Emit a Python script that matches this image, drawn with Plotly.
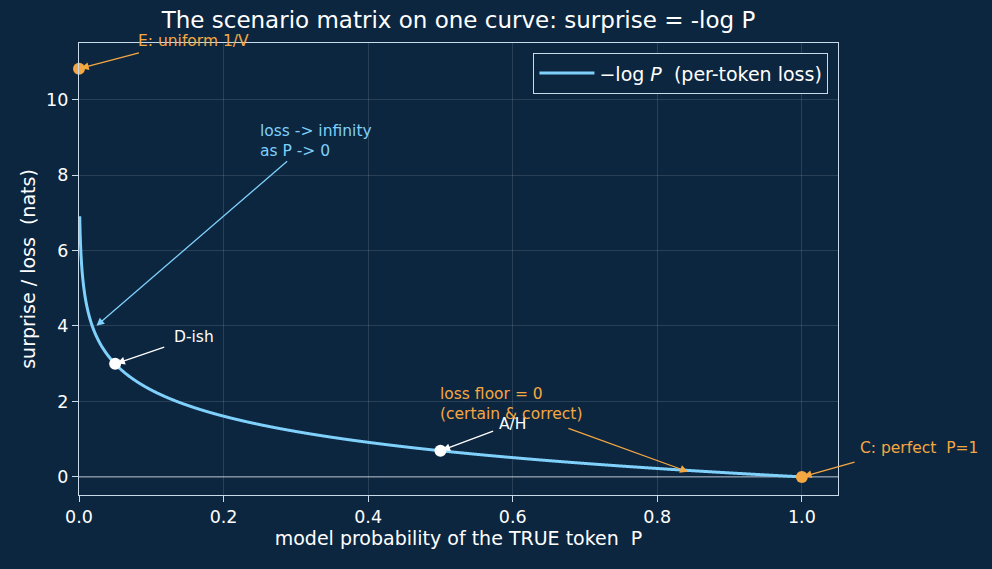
import numpy as np
import plotly.graph_objects as go

# ---- data ----
p_curve = np.linspace(0.001, 1.0, 3000)
loss_curve = -np.log(p_curve)

V = 50000
scenario_labels = ["E: uniform 1/V", "D-ish", "A/H", "C: perfect\u00a0\u00a0P=1"]
scenario_p = [1.0 / V, 0.05, 0.5, 1.0]
scenario_loss = [float(-np.log(p)) for p in scenario_p]
scenario_colors = ["#f5a742", "#ffffff", "#ffffff", "#f5a742"]

x_ticks = [0.0, 0.2, 0.4, 0.6, 0.8, 1.0]
y_ticks = [0, 2, 4, 6, 8, 10]

BG = "#0c263f"
CURVE = "#7fd0fb"
ORANGE = "#f5a742"
SPINE = "#c9dbea"
FONT = "DejaVu Sans"
X_MAX = 1.05
NB2 = "\u00a0\u00a0"

fig = go.Figure()
fig.add_trace(go.Scatter(
    x=p_curve, y=loss_curve, mode="lines",
    line=dict(color=CURVE, width=3, simplify=False),
    name="\u2212log <i>P</i>" + NB2 + "(per-token loss)",
))
fig.add_trace(go.Scatter(
    x=scenario_p, y=scenario_loss, mode="markers",
    marker=dict(color=scenario_colors, size=12, line=dict(width=0)),
    showlegend=False, cliponaxis=False,
))

# zero line
fig.add_shape(type="line", xref="paper", yref="y", x0=0, x1=1, y0=0, y1=0,
              line=dict(color="#8a9bab", width=1.2), layer="below")

ANN_SIZE = 15.5
anns = []
def arrow(x, y, ax, ay, color):
    anns.append(dict(x=x, y=y, ax=ax, ay=ay, xref="x", yref="y", axref="x", ayref="y",
                     text="", showarrow=True, arrowhead=2, arrowsize=1.2, arrowwidth=1.3,
                     arrowcolor=color, standoff=2))
def label(x, y, text, color, paper=False):
    anns.append(dict(x=(x / X_MAX) if paper else x, y=y,
                     xref="paper" if paper else "x", yref="y", text=text, showarrow=False,
                     xanchor="left", yanchor="bottom", align="left",
                     font=dict(family=FONT, size=ANN_SIZE, color=color)))

# E
arrow(scenario_p[0], scenario_loss[0], 0.085, 11.25, ORANGE)
label(0.079, 11.26, scenario_labels[0], ORANGE)
# loss -> infinity
arrow(0.022, 3.97, 0.29, 8.4, CURVE)
label(0.248, 8.35, "loss -> infinity<br>as P -> 0", CURVE)
# D-ish
arrow(scenario_p[1], scenario_loss[1], 0.12, 3.45, "#ffffff")
label(0.129, 3.42, scenario_labels[1], "#ffffff")
# A/H
arrow(scenario_p[2], scenario_loss[2], 0.575, 1.23, "#ffffff")
label(0.578, 1.1, scenario_labels[2], "#ffffff")
# loss floor
arrow(0.845, 0.12, 0.675, 1.3, ORANGE)
label(0.497, 1.38, "loss floor = 0<br>(certain & correct)", ORANGE)
# C
arrow(scenario_p[3], scenario_loss[3], 1.075, 0.4, ORANGE)
label(1.077, 0.47, scenario_labels[3], ORANGE, paper=True)

TICK_SIZE = 17.5
LABEL_SIZE = 19
axis_common = dict(
    showline=True, linecolor=SPINE, linewidth=1.3, mirror=True,
    ticks="outside", ticklen=6, tickwidth=1, tickcolor=SPINE,
    showgrid=True, gridcolor="rgba(255,255,255,0.12)", gridwidth=1,
    zeroline=False, tickfont=dict(family=FONT, size=TICK_SIZE, color="#ffffff"),
)

fig.update_layout(
    width=992, height=569,
    paper_bgcolor=BG, plot_bgcolor=BG,
    margin=dict(l=79, r=154, t=43, b=74),
    title=dict(text="The scenario matrix on one curve: surprise = -log P",
               x=(79 + 379.5) / 992, xanchor="center", y=1 - 20 / 569, yanchor="middle",
               font=dict(family=FONT, size=23, color="#ffffff")),
    xaxis=dict(range=[0, X_MAX], tickvals=x_ticks, ticktext=[f"{v:.1f}" for v in x_ticks],
               title=dict(text="model probability of the TRUE token" + NB2 + "P",
                          font=dict(family=FONT, size=LABEL_SIZE, color="#ffffff"), standoff=4),
               **axis_common),
    yaxis=dict(range=[-0.48, 11.5], tickvals=y_ticks,
               title=dict(text="surprise / loss" + NB2 + "(nats)",
                          font=dict(family=FONT, size=LABEL_SIZE, color="#ffffff"), standoff=5),
               **axis_common),
    legend=dict(x=0.987, y=0.978, xanchor="right", yanchor="top",
                bgcolor=BG, bordercolor=SPINE, borderwidth=1.3, itemwidth=55,
                font=dict(family=FONT, size=LABEL_SIZE, color="#ffffff")),
    annotations=anns,
    font=dict(family=FONT),
)

fig.write_html("out.html")
